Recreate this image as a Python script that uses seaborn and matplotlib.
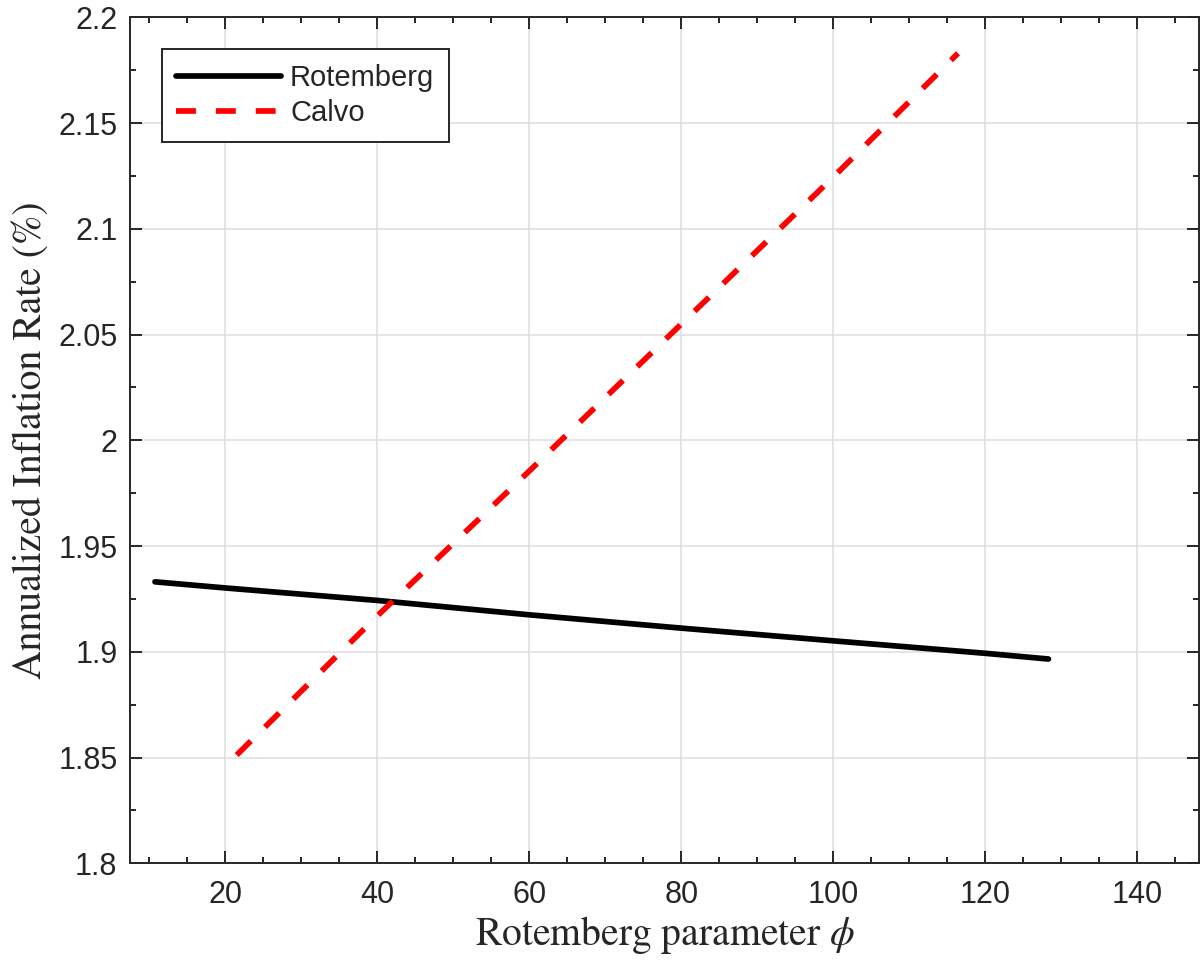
import matplotlib
matplotlib.use("Agg")
import matplotlib.pyplot as plt
import seaborn as sns
import numpy as np
import pandas as pd

# Data
rot_phi = [10.75, 20, 40, 60, 80, 100, 120, 128.3]
rot_infl = [1.9331, 1.9302, 1.9243, 1.9175, 1.9112, 1.9052, 1.8993, 1.8966]
calvo_phi = [21.5, 40, 60, 80, 100, 116.4]
calvo_infl = [1.8512, 1.9170, 1.9855, 2.0550, 2.1245, 2.1830]

x_ticks = [20, 40, 60, 80, 100, 120, 140]
y_ticks = [1.8, 1.85, 1.9, 1.95, 2.0, 2.05, 2.1, 2.15, 2.2]
y_tick_labels = ["1.8", "1.85", "1.9", "1.95", "2", "2.05", "2.1", "2.15", "2.2"]

sns.set_style("ticks")
plt.rcParams["font.family"] = ["Liberation Sans", "DejaVu Sans"]
plt.rcParams["mathtext.fontset"] = "stix"

axis_col = "#262626"
fig = plt.figure(figsize=(12.01, 9.67), dpi=100)
ax = fig.add_axes([0.1082, 0.1072, 0.8901, 0.8749])

sns.lineplot(x=rot_phi, y=rot_infl, ax=ax, color="black", linewidth=4.1,
             label="Rotemberg")
sns.lineplot(x=calvo_phi, y=calvo_infl, ax=ax, color="#ff0000", linewidth=4.1,
             linestyle=(0, (3.5, 3.5)), label="Calvo")

ax.set_xlim(7.46, 148.1)
ax.set_ylim(1.8, 2.2)
ax.set_xticks(x_ticks)
ax.set_xticks(np.arange(10, 148, 5), minor=True)
ax.set_yticks(y_ticks)
ax.set_yticklabels(y_tick_labels)
ax.set_yticks(np.arange(1.8, 2.2001, 0.025), minor=True)

ax.grid(True, which="major", color="#dedede", lw=1.1)
ax.set_axisbelow(True)
for s in ax.spines.values():
    s.set_visible(True)
    s.set_color(axis_col)
    s.set_linewidth(1.4)

ax.tick_params(which="both", direction="in", top=True, right=True,
               color=axis_col, width=1.4)
ax.tick_params(which="major", length=8.6, labelsize=22, labelcolor=axis_col)
ax.tick_params(which="minor", length=4.3)
ax.tick_params(axis="x", which="major", pad=12)
ax.tick_params(axis="y", which="major", pad=9)

ax.set_xlabel(r"Rotemberg parameter $\phi$", family="STIXGeneral",
              fontsize=28.5, color=axis_col, labelpad=3)
ax.set_ylabel("Annualized Inflation Rate (%)", family="STIXGeneral",
              fontsize=28.5, color=axis_col, labelpad=6)

leg = ax.legend(loc="upper left", bbox_to_anchor=(0.0297, 0.9622),
                borderaxespad=0, fontsize=21, fancybox=False,
                framealpha=1, edgecolor=axis_col, handlelength=3.6,
                handletextpad=0.3, labelspacing=0.25, borderpad=0.5)
leg.get_frame().set_linewidth(1.4)

fig.savefig("out.png", dpi=100)
